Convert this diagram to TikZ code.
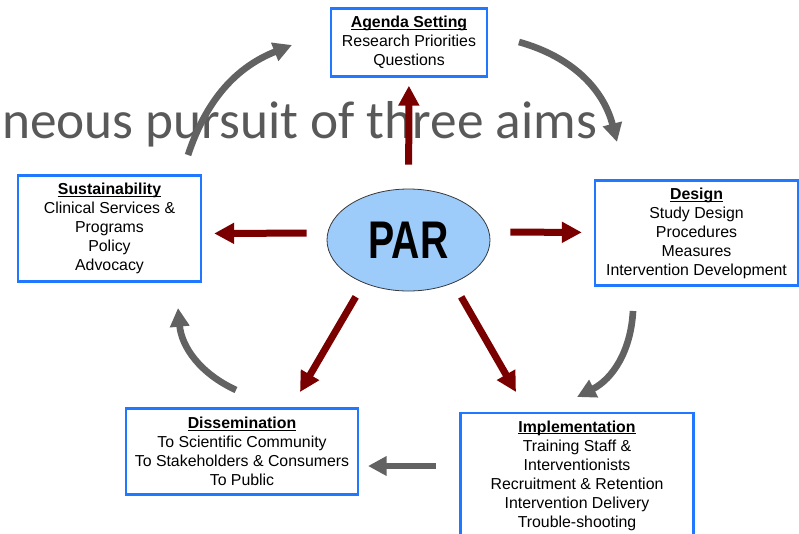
\documentclass[tikz,border=0pt]{standalone}
\usepackage{fontspec}
\setmainfont{Liberation Sans}
\newfontfamily\calib{Carlito}
\usetikzlibrary{arrows.meta,shapes.geometric}
\definecolor{boxblue}{HTML}{1F78FF}
\definecolor{darkred}{HTML}{7A0000}
\definecolor{arrgray}{HTML}{626262}
\definecolor{parblue}{HTML}{9DCBFA}
\definecolor{bigtext}{HTML}{595959}
\newcommand\boxtitle[1]{\setbox0\hbox{\bfseries #1}\rlap{\rule[-1.8pt]{\wd0}{0.75pt}}\box0}
\begin{document}
\begin{tikzpicture}[x=0.75pt,y=-0.75pt,
  stage/.style={draw=boxblue,line width=1.8pt,fill=white,align=center,
    font=\fontsize{11.9}{14.25}\selectfont,inner sep=0pt},
  redarrow/.style={draw=darkred,line width=5.25pt,-{Triangle[width=15pt,length=15pt]}},
  grayarrow/.style={draw=arrgray,line width=5pt,-{Triangle[width=14pt,length=14pt]}}]
\clip (0,0) rectangle (799,533);
\useasboundingbox (0,0) rectangle (799,533);

% big background text
\node[anchor=base west,inner sep=0pt,text=bigtext,font=\calib\fontsize{40}{40}\selectfont] (aims) at (2,138) {neous pursuit of three aims};

% stages
\node[stage,minimum width=117pt,minimum height=51pt] (agenda) at (409,42.5)
  {\boxtitle{Agenda Setting}\\Research Priorities\\Questions};
\node[stage,minimum width=137.25pt,minimum height=79.5pt] (sustain) at (109.5,228.5)
  {\boxtitle{Sustainability}\\Clinical Services \&\\Programs\\Policy\\Advocacy};
\node[stage,minimum width=152.25pt,minimum height=78.75pt] (design) at (696.5,233)
  {\boxtitle{Design}\\Study Design\\Procedures\\Measures\\Intervention Development};
\node[stage,minimum width=174pt,minimum height=64.5pt] (dissem) at (242,451.5)
  {\boxtitle{Dissemination}\\To Scientific Community\\To Stakeholders \& Consumers\\To Public};
\node[stage,minimum width=174.75pt,anchor=north,inner ysep=5.5pt] (impl) at (577,412)
  {\boxtitle{Implementation}\\Training Staff \&\\Interventionists\\Recruitment \& Retention\\Intervention Delivery\\Trouble-shooting\\[4pt]};

% centre
\node[ellipse,draw=gray!45!black,line width=0.6pt,fill=parblue,minimum width=122.25pt,
  minimum height=76.5pt,inner sep=0pt] (par) at (408.5,240)
  {\scalebox{0.74}[1]{\fontsize{39.75}{40}\selectfont\bfseries PAR}};

% free ends of the diagonal arrows
\coordinate (parSW) at (363.8,283);
\coordinate (dissTop) at (300,392);
\coordinate (parSE) at (453.2,283);
\coordinate (implTop) at (516,392);

% red arrows from PAR
\draw[redarrow,shorten <=18pt,shorten >=6pt] (par) -- (agenda);
\draw[redarrow,shorten <=15pt,shorten >=9pt] ([yshift=5.25pt]par.west) -- ([yshift=-3.75pt]sustain.east);
\draw[redarrow,shorten <=15pt,shorten >=9pt] ([yshift=6pt]par.east) -- ([yshift=0.4pt]design.west);
\draw[redarrow,shorten <=12pt] (parSW) -- (dissTop);
\draw[redarrow,shorten <=12pt] (parSE) -- (implTop);

% grey cycle arrows
\coordinate (c1s) at (188,155); \coordinate (c1e) at (292,45);
\coordinate (c2s) at (519,42);  \coordinate (c2e) at (617,142);
\coordinate (c3s) at (633,311); \coordinate (c3e) at (577,397);
\coordinate (c4s) at (436,466); \coordinate (c4e) at (368,466);
\coordinate (c5s) at (236,390); \coordinate (c5e) at (178,308);
\draw[grayarrow] (c1s) to[bend left=25] (c1e);
\draw[grayarrow] (c2s) to[bend left=30] (c2e);
\draw[grayarrow] (c3s) to[bend left=30] (c3e);
\draw[grayarrow] (c4s) -- (c4e);
\draw[grayarrow] (c5s) to[bend left=30] (c5e);
\end{tikzpicture}
\end{document}
